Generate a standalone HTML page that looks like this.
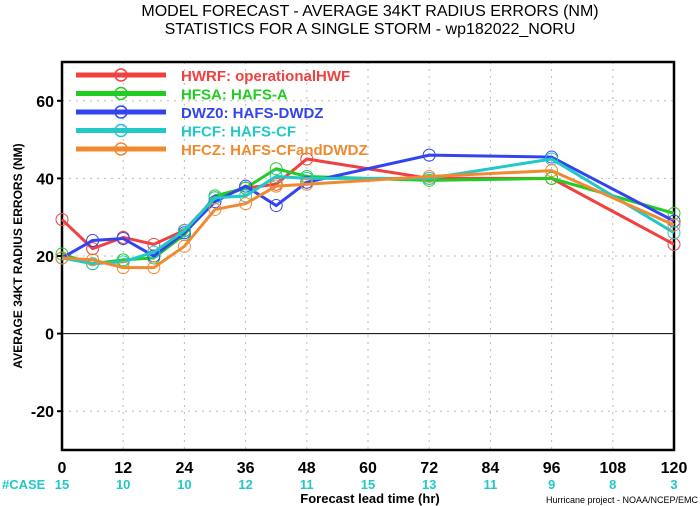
<!DOCTYPE html>
<html><head><meta charset="utf-8"><style>
body{margin:0;background:#fff;}
svg{display:block;font-family:"Liberation Sans",sans-serif;font-weight:bold;}
</style></head><body>
<svg id="chart" width="700" height="506" viewBox="0 0 700 506"></svg>
<script>
const hours=[0,6,12,18,24,30,36,42,48,72,96,120];
const hwrf=[29.4,21.9,24.8,23,26.6,35,37.5,38.5,45,40,40,23];
const hfsa=[20.5,18,19,19.5,25.5,35.5,37.5,42.5,40.5,39.5,40,31];
const dwz0=[19.5,24,24.5,20,26,34,38,33,39,46,45.5,29];
const hfcf=[19.5,18,18.5,21,26.5,35,35.5,40.5,40,40,45,26];
const hfcz=[19.5,19,17,17,22.5,32,33.5,38,38.5,40.5,42,28];
const xTicks=[0,12,24,36,48,60,72,84,96,108,120];
const yTicks=[-20,0,20,40,60];
const caseCounts=[15,10,10,12,11,15,13,11,9,8,3];
const seriesNames=["HWRF: operationalHWF","HFSA: HAFS-A","DWZ0: HAFS-DWDZ","HFCF: HAFS-CF","HFCZ: HAFS-CFandDWDZ"];
const seriesData=[hwrf,hfsa,dwz0,hfcf,hfcz];
const colors=["#f04040","#22cc22","#3344ee","#22c8c8","#f08a30"];
const L=62,R=674,T=62,B=450,ymin=-30,ymax=70;
const X=t=>L+(t-0)/(120-0)*(R-L);
const Y=v=>B-(v-ymin)/(ymax-ymin)*(B-T);
const svg=document.getElementById('chart');
const NS="http://www.w3.org/2000/svg";
function mk(tag,attrs,txt){const e=document.createElementNS(NS,tag);for(const k in attrs)e.setAttribute(k,attrs[k]);if(txt!==undefined)e.textContent=txt;svg.appendChild(e);return e;}
let e;
e=mk('text',{x:370,y:16,'text-anchor':'middle','font-size':16,'font-weight':'normal'},'MODEL FORECAST - AVERAGE 34KT RADIUS ERRORS (NM)');


e=mk('text',{x:370,y:34,'text-anchor':'middle','font-size':16,'font-weight':'normal'},'STATISTICS FOR A SINGLE STORM - wp182022_NORU');


// grid
xTicks.forEach(t=>{if(t>0&&t<120){e=mk('line',{x1:X(t),x2:X(t),y1:T,y2:B,stroke:'#bbb','stroke-dasharray':'2,5'});

}});
yTicks.forEach(v=>{e=mk('line',{x1:L,x2:R,y1:Y(v),y2:Y(v),stroke:v===0?'#000':'#bbb','stroke-dasharray':v===0?'none':'2,5','stroke-width':v===0?1:1});

});
e=mk('rect',{x:L,y:T,width:R-L,height:B-T,fill:'none',stroke:'#000','stroke-width':2.5});


yTicks.forEach(v=>{e=mk('text',{x:L-8,y:Y(v)+6,'text-anchor':'end','font-size':16},v);


mk('line',{x1:L-5,x2:L,y1:Y(v),y2:Y(v),stroke:'#000','stroke-width':2});});
xTicks.forEach((t,i)=>{e=mk('text',{x:X(t),y:473,'text-anchor':'middle','font-size':16},t);


e=mk('text',{x:X(t),y:489,'text-anchor':'middle','font-size':13,fill:'#22c8c8'},caseCounts[i]);

});
e=mk('text',{x:2,y:489,'font-size':13,fill:'#22c8c8'},'#CASE');


e=mk('text',{x:370,y:503,'text-anchor':'middle','font-size':13},'Forecast lead time (hr)');


e=mk('text',{x:698,y:503,'text-anchor':'end','font-size':9,'font-weight':'normal'},'Hurricane project - NOAA/NCEP/EMC');


e=mk('text',{x:22,y:256,'text-anchor':'middle','font-size':12,transform:'rotate(-90 22 256)'},'AVERAGE 34KT RADIUS ERRORS (NM)');


seriesData.forEach((d,s)=>{
 const pts=d.map((v,i)=>X(hours[i])+','+Y(v)).join(' ');
 e=mk('polyline',{points:pts,fill:'none',stroke:colors[s],'stroke-width':3});
 
 
 d.forEach((v,i)=>{e=mk('circle',{cx:X(hours[i]),cy:Y(v),r:6,fill:'none',stroke:colors[s],'stroke-width':1});
 
 });
});
seriesNames.forEach((n,s)=>{
 const y=75+s*18.5;
 e=mk('line',{x1:76,x2:166,y1:y,y2:y,stroke:colors[s],'stroke-width':5});
 
 
 mk('circle',{cx:121,cy:y,r:6,fill:'none',stroke:colors[s],'stroke-width':1.5});
 e=mk('text',{x:181,y:y+6,'font-size':15,fill:colors[s]},n);
 
 
});
</script>
</body></html>
